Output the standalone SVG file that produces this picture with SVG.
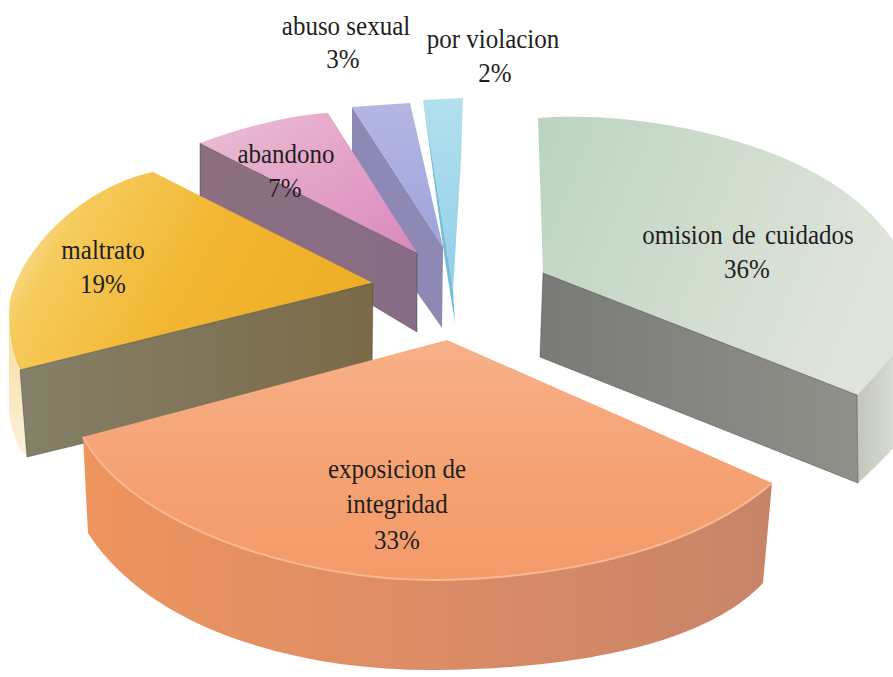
<svg xmlns="http://www.w3.org/2000/svg" width="893" height="677" viewBox="0 0 893 677">
<defs>
<style>
.lbl{font-family:"Liberation Serif","Times New Roman","DejaVu Serif",serif;font-size:25px;fill:#1e1e1e;text-anchor:middle}
.edge{stroke:#3a3a3a;stroke-width:0.8;stroke-opacity:0.55}
</style>
<linearGradient id="gOmTop" x1="0" y1="0" x2="1" y2="0.3">
<stop offset="0" stop-color="#bbd4bf"/><stop offset="0.5" stop-color="#cfdccd"/><stop offset="1" stop-color="#e0e4dc"/>
</linearGradient>
<linearGradient id="gOmFront" x1="0" y1="0" x2="1" y2="0">
<stop offset="0" stop-color="#7a7b76"/><stop offset="1" stop-color="#8f908a"/>
</linearGradient>
<linearGradient id="gOmSide" x1="0" y1="0" x2="1" y2="0">
<stop offset="0" stop-color="#c3c6bd"/><stop offset="1" stop-color="#dcdfd6"/>
</linearGradient>
<linearGradient id="gMaTop" x1="0" y1="0.3" x2="1" y2="0.6">
<stop offset="0" stop-color="#faE2aa"/><stop offset="0.15" stop-color="#f6cb5c"/><stop offset="0.5" stop-color="#f2b733"/><stop offset="1" stop-color="#eead24"/>
</linearGradient>
<linearGradient id="gMaFront" x1="0" y1="0" x2="1" y2="0">
<stop offset="0" stop-color="#858069"/><stop offset="1" stop-color="#7b6a48"/>
</linearGradient>
<linearGradient id="gMaSide" x1="0" y1="0" x2="0" y2="1">
<stop offset="0" stop-color="#f5d997"/><stop offset="1" stop-color="#fcf1dc"/>
</linearGradient>
<linearGradient id="gAbTop" x1="0" y1="0" x2="1" y2="1">
<stop offset="0" stop-color="#eac0d6"/><stop offset="0.5" stop-color="#e4a2c8"/><stop offset="1" stop-color="#d98abe"/>
</linearGradient>
<linearGradient id="gAbFront" x1="0" y1="0" x2="1" y2="0">
<stop offset="0" stop-color="#8b6f80"/><stop offset="1" stop-color="#886c85"/>
</linearGradient>
<linearGradient id="gLvTop" x1="0" y1="0" x2="0" y2="1">
<stop offset="0" stop-color="#b4b6e2"/><stop offset="1" stop-color="#9ea3dc"/>
</linearGradient>
<linearGradient id="gBlTop" x1="0" y1="0" x2="0" y2="1">
<stop offset="0" stop-color="#b3dfee"/><stop offset="1" stop-color="#92d0ea"/>
</linearGradient>
<linearGradient id="gOrTop" x1="0" y1="0" x2="0" y2="1">
<stop offset="0" stop-color="#f7b088"/><stop offset="0.6" stop-color="#f5a172"/><stop offset="1" stop-color="#f39a69"/>
</linearGradient>
<linearGradient id="gOrSide" x1="0" y1="0" x2="1" y2="0">
<stop offset="0" stop-color="#ee945f"/><stop offset="0.5" stop-color="#dc8c66"/><stop offset="1" stop-color="#c88468"/>
</linearGradient>
</defs>
<rect width="893" height="677" fill="#ffffff"/>

<g id="por-violacion">
<path d="M423,100 L463,98 L461,160 L453,290 Z" fill="url(#gBlTop)"/>
<path d="M423,100 L453,290 L455,323 L445,260 Z" fill="#74bcd8"/>
<text class="lbl" transform="translate(493,48) scale(1,1.12)">por violacion</text>
<text class="lbl" transform="translate(495,82) scale(1,1.12)">2%</text>
</g>

<g id="abuso-sexual">
<path d="M352,107 L443,247 L442,328 L352,200 Z" fill="#8e89b4"/>
<path d="M352,107 L410,103 L443,247 Z" fill="url(#gLvTop)"/>
<text class="lbl" transform="translate(346,35) scale(1,1.12)">abuso sexual</text>
<text class="lbl" transform="translate(343,68) scale(1,1.12)">3%</text>
</g>

<g id="abandono">
<path d="M200,143 L417,253 L417,332 L372,305 L200,230 Z" fill="url(#gAbFront)" class="edge"/>
<path d="M417,253 L328,113 C290,115 240,128 200,143 Z" fill="url(#gAbTop)"/>
<text class="lbl" transform="translate(286,163) scale(1,1.12)">abandono</text>
<text class="lbl" transform="translate(285,197) scale(1,1.12)">7%</text>
</g>

<g id="omision-de-cuidados">
<path d="M538,118 C640,110 770,138 845,192 C905,236 935,300 900,345 C885,365 870,382 857,395 L543,273 Z" fill="url(#gOmTop)"/>
<path d="M857,395 C870,382 885,365 900,345 L900,440 C885,458 870,472 858,483 Z" fill="url(#gOmSide)"/>
<path d="M543,273 L857,395 L858,483 L540,357 Z" fill="url(#gOmFront)" class="edge"/>
<text class="lbl" style="word-spacing:3px" transform="translate(748,244) scale(1,1.12)">omision de cuidados</text>
<text class="lbl" transform="translate(747,278) scale(1,1.12)">36%</text>
</g>

<g id="maltrato">
<path d="M373,283 L153,172 C90,185 25,240 10,300 C7,330 12,355 20,370 Z" fill="url(#gMaTop)"/>
<path d="M20,370 C12,356 8,335 9,305 L9,410 C11,432 17,448 27,457 Z" fill="url(#gMaSide)"/>
<path d="M20,370 L373,283 L372,373 L27,457 Z" fill="url(#gMaFront)" class="edge"/>
<text class="lbl" transform="translate(103,259) scale(1,1.12)">maltrato</text>
<text class="lbl" transform="translate(103,293) scale(1,1.12)">19%</text>
</g>

<g id="exposicion-de-integridad">
<path d="M83,437 C130,525 300,582 440,580 C580,577 700,545 772,483 L763,583 C710,640 590,668 440,670 C300,672 150,630 88,533 Z" fill="url(#gOrSide)"/>
<path d="M447,340 L83,437 C130,525 300,582 440,580 C580,577 700,545 772,483 Z" fill="url(#gOrTop)"/>
<path d="M83,437 C130,525 300,582 440,580 C580,577 700,545 772,483" fill="none" stroke="#f9b994" stroke-width="2"/>
<text class="lbl" transform="translate(397,478) scale(1,1.12)">exposicion de</text>
<text class="lbl" transform="translate(397,513) scale(1,1.12)">integridad</text>
<text class="lbl" transform="translate(397,549) scale(1,1.12)">33%</text>
</g>
</svg>
